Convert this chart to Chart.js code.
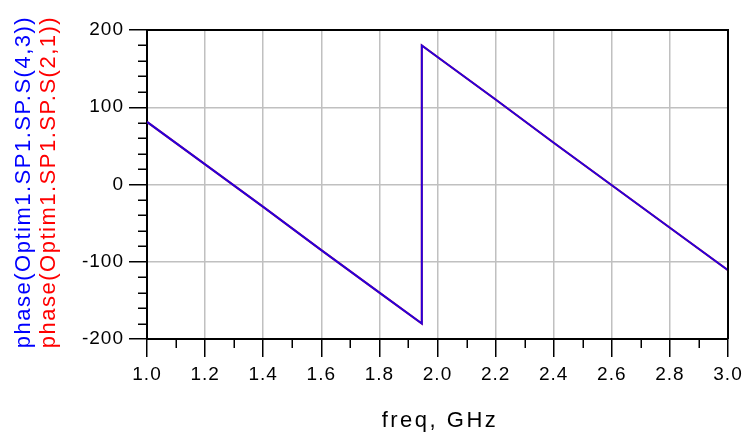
<!DOCTYPE html>
<html>
<head>
<meta charset="utf-8">
<script src="https://cdn.jsdelivr.net/npm/chart.js@4.4.1/dist/chart.umd.min.js"></script>
<style>
  html, body { margin: 0; padding: 0; background: #ffffff; }
  #wrap { width: 743px; height: 433px; }
</style>
</head>
<body>
<div id="wrap"><canvas id="c" width="743" height="433"></canvas></div>
<script>
// ---- data ----
const freqGHz = [1.0, 1.2, 1.4, 1.6, 1.8, 1.946, 1.946, 2.0, 2.2, 2.4, 2.6, 2.8, 3.0];
const phaseS43 = [81, 26, -29, -85, -140, -180, 180, 165, 110, 54, -1, -56, -111];
const phaseS21 = [81, 26, -29, -85, -140, -180, 180, 165, 110, 54, -1, -56, -111];

const yTickMajor = [-200, -100, 0, 100, 200];
const yTickMinor = [-180, -160, -140, -120, -80, -60, -40, -20, 20, 40, 60, 80, 120, 140, 160, 180];
const xTickMajor = [1.0, 1.2, 1.4, 1.6, 1.8, 2.0, 2.2, 2.4, 2.6, 2.8, 3.0];
const xTickMinor = [1.1, 1.3, 1.5, 1.7, 1.9, 2.1, 2.3, 2.5, 2.7, 2.9];

const yTitleBlue = 'phase(Optim1.SP1.SP.S(4,3))';
const yTitleRed = 'phase(Optim1.SP1.SP.S(2,1))';
const xTitle = 'freq, GHz';

const FONT = "'Liberation Sans', Arial, Helvetica, sans-serif";

function toXY(xs, ys) { return xs.map((x, i) => ({ x: x, y: ys[i] })); }

const spacingPlugin = {
  id: 'spacing',
  beforeLayout(chart) { chart.ctx.letterSpacing = '1px'; },
  beforeDraw(chart) { chart.ctx.letterSpacing = '1px'; }
};

const decorPlugin = {
  id: 'decor',
  afterDraw(chart) {
    const ctx = chart.ctx;
    const a = chart.chartArea;
    const xs = chart.scales.x, ys = chart.scales.y;
    ctx.save();
    // box border (top and right)
    ctx.strokeStyle = '#000000';
    ctx.lineWidth = 2;
    ctx.beginPath();
    ctx.moveTo(a.left, a.top);
    ctx.lineTo(a.right, a.top);
    ctx.lineTo(a.right, a.bottom);
    ctx.stroke();
    // minor ticks
    ctx.lineWidth = 1.5;
    ctx.beginPath();
    yTickMinor.forEach(v => {
      const p = Math.round(ys.getPixelForValue(v)) + 0.25;
      ctx.moveTo(a.left - 9, p);
      ctx.lineTo(a.left, p);
    });
    xTickMinor.forEach(v => {
      const p = Math.round(xs.getPixelForValue(v)) + 0.25;
      ctx.moveTo(p, a.bottom);
      ctx.lineTo(p, a.bottom + 9);
    });
    ctx.stroke();
    // axis titles
    ctx.textAlign = 'center';
    ctx.textBaseline = 'alphabetic';
    ctx.font = '22px ' + FONT;
    ctx.letterSpacing = '1.5px';
    const cy = 182;
    ctx.save();
    ctx.translate(30, cy);
    ctx.rotate(-Math.PI / 2);
    ctx.fillStyle = '#0000ff';
    ctx.fillText(yTitleBlue, 0, 0);
    ctx.restore();
    ctx.save();
    ctx.translate(55, cy);
    ctx.rotate(-Math.PI / 2);
    ctx.fillStyle = '#ff0000';
    ctx.fillText(yTitleRed, 0, 0);
    ctx.restore();
    ctx.letterSpacing = '2.5px';
    ctx.fillStyle = '#000000';
    ctx.fillText(xTitle, 440, 427);
    ctx.restore();
  }
};

new Chart(document.getElementById('c'), {
  type: 'line',
  data: {
    datasets: [
      {
        label: yTitleRed,
        data: toXY(freqGHz, phaseS21),
        borderColor: '#ff0000',
        borderWidth: 2,
        pointRadius: 0,
        tension: 0,
        fill: false,
        order: 2
      },
      {
        label: yTitleBlue,
        data: toXY(freqGHz, phaseS43),
        borderColor: 'rgba(0,0,255,0.85)',
        borderWidth: 2,
        pointRadius: 0,
        tension: 0,
        fill: false,
        order: 1
      }
    ]
  },
  options: {
    responsive: false,
    devicePixelRatio: 1,
    animation: false,
    layout: { padding: { left: 0, top: 30, right: 15, bottom: 0 } },
    plugins: { legend: { display: false }, tooltip: { enabled: false }, title: { display: false } },
    scales: {
      x: {
        type: 'linear',
        min: 1.0,
        max: 3.0,
        afterBuildTicks(scale) { scale.ticks = xTickMajor.map(v => ({ value: v })); },
        afterFit(scale) { scale.height = 94; scale.paddingLeft = 0; scale.paddingRight = 0; },
        ticks: {
          color: '#000000',
          font: { family: FONT, size: 19 },
          padding: 6,
          maxRotation: 0,
          autoSkip: false,
          callback: v => Number(v).toFixed(1)
        },
        grid: { color: '#c0c0c0', lineWidth: 1.5, tickLength: 18, tickColor: '#000000', tickWidth: 1.5 },
        border: { display: true, color: '#000000', width: 2 }
      },
      y: {
        type: 'linear',
        min: -200,
        max: 200,
        afterBuildTicks(scale) { scale.ticks = yTickMajor.map(v => ({ value: v })); },
        afterFit(scale) { scale.width = 147; scale.paddingTop = 0; scale.paddingBottom = 0; },
        ticks: {
          color: '#000000',
          font: { family: FONT, size: 19 },
          padding: 5,
          autoSkip: false,
          callback: v => String(v)
        },
        grid: { color: '#c0c0c0', lineWidth: 1.5, tickLength: 18, tickColor: '#000000', tickWidth: 1.5 },
        border: { display: true, color: '#000000', width: 2 }
      }
    }
  },
  plugins: [spacingPlugin, decorPlugin]
});
</script>
</body>
</html>
